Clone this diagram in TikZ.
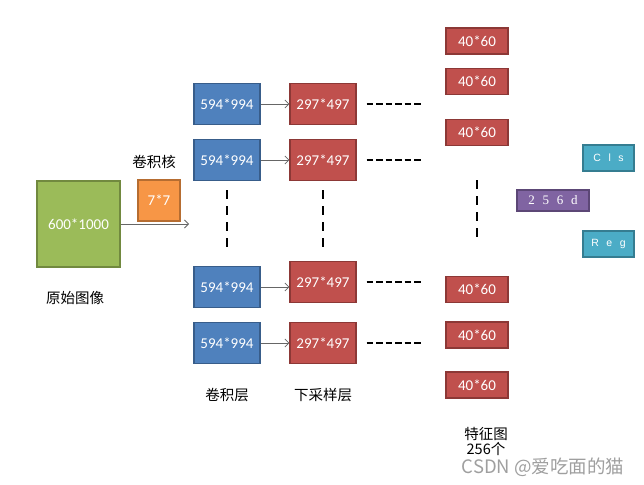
\documentclass[tikz,border=0pt]{standalone}
\usepackage{fontspec}
\setmainfont{Carlito}
\newfontfamily\cjk{Noto Sans CJK SC}
\newfontfamily\serifspaced[WordSpace=2.4]{Liberation Serif}
\newfontfamily\sansspaced[WordSpace=2.6]{Liberation Sans}
\usetikzlibrary{arrows.meta}
\definecolor{imgfill}{HTML}{9BBB59}
\definecolor{imgedge}{HTML}{71893F}
\definecolor{kernfill}{HTML}{F79646}
\definecolor{kernedge}{HTML}{B66D31}
\definecolor{convfill}{HTML}{4F81BD}
\definecolor{convedge}{HTML}{385D8A}
\definecolor{poolfill}{HTML}{C0504D}
\definecolor{pooledge}{HTML}{8C3836}
\definecolor{headfill}{HTML}{4BACC6}
\definecolor{headedge}{HTML}{357D91}
\definecolor{dimfill}{HTML}{8064A2}
\definecolor{dimedge}{HTML}{5C4776}

\begin{document}
\begin{tikzpicture}[
 x=1pt,y=-1pt,
 every node/.style={align=center,font=\fontsize{15}{16}\selectfont},
 mbox/.style={draw,line width=1.2pt,text=white,inner sep=0pt},
 convbox/.style={mbox,draw=convedge,fill=convfill,minimum width=66pt,minimum height=41pt},
 poolbox/.style={mbox,draw=pooledge,fill=poolfill,minimum width=66pt,minimum height=41pt},
 featbox/.style={mbox,draw=pooledge,fill=poolfill,minimum width=62pt,minimum height=26pt},
 headbox/.style={mbox,draw=headedge,fill=headfill,minimum width=51pt,minimum height=26pt,
 font=\sansspaced\fontsize{10.5}{12}\selectfont},
 lbl/.style={font=\cjk\fontsize{14.5}{15}\selectfont},
 mflow/.style={-{Straight Barb[length=4pt,width=8pt]},draw=gray!80!black,line width=.8pt},
 mdash/.style={draw=black,line width=2.6pt,dash pattern=on 6.5pt off 3pt},
 vdash/.style={draw=black,line width=2.6pt,dash pattern=on 9pt off 7pt}]
\useasboundingbox (0,0) rectangle (644,484);
% input image and kernel
\node[mbox,draw=imgedge,fill=imgfill,minimum width=83pt,minimum height=86pt] (img) at (78.5,224) {600*1000};
\node[mbox,draw=kernedge,fill=kernfill,minimum width=42pt,minimum height=41pt] (kern) at (159,200.5) {7*7};
\node[lbl] (kernlbl) at (154,162) {卷积核};
\node[lbl] (imglbl) at (75,298) {原始图像};
\coordinate (kend) at (189,224);
\draw[mflow] (img.east) -- (kend);
% conv and pooling layers
\node[convbox] (c1) at (227,104) {594*994};
\node[convbox] (c2) at (227,160) {594*994};
\node[convbox] (c3) at (227,287) {594*994};
\node[convbox] (c4) at (227,343) {594*994};
\node[poolbox] (p1) at (323,104) {297*497};
\node[poolbox] (p2) at (323,160) {297*497};
\node[poolbox] (p3) at (323,282) {297*497};
\node[poolbox] (p4) at (323,343) {297*497};
\node[lbl] (convlbl) at (227,395) {卷积层};
\node[lbl] (poollbl) at (323,395) {下采样层};
\draw[mflow] (c1.east) -- (p1.west);
\draw[mflow] (c2.east) -- (p2.west);
\draw[mflow] (c3.east) -- (c3.east -| p3.west);
\draw[mflow] (c4.east) -- (p4.west);
\draw[vdash] ([yshift=-9pt]c2.south) -- ([yshift=14pt]c3.north);
\draw[vdash] ([yshift=-9pt]p2.south) -- ([yshift=10pt]p3.north);
\draw[mdash] ([xshift=10pt]p1.east) -- ++(56,0);
\draw[mdash] ([xshift=10pt]p2.east) -- ++(56,0);
\draw[mdash] ([xshift=10pt]p3.east) -- ++(56,0);
\draw[mdash] ([xshift=10pt]p4.east) -- ++(56,0);
% feature maps
\node[featbox] (f1) at (477,41) {40*60};
\node[featbox] (f2) at (477,81.5) {40*60};
\node[featbox] (f3) at (477,132.5) {40*60};
\node[featbox] (f4) at (477,289.5) {40*60};
\node[featbox] (f5) at (477,335) {40*60};
\node[featbox] (f6) at (477,385) {40*60};
\draw[vdash] ([yshift=-34pt]f3.south) -- ([yshift=36pt]f4.north);
\node[lbl] (featlbl) at (486,441) {特征图\\256个};
% heads
\node[mbox,draw=dimedge,fill=dimfill,minimum width=72pt,minimum height=21pt,
 font=\serifspaced\fontsize{13}{14}\selectfont] (dim) at (553,200.5) {2 5 6 d};
\node[headbox] (cls) at (608.5,158) {C l s};
\node[headbox] (reg) at (608.5,244) {R e g};
\node[font=\cjk\fontsize{18.5}{19}\selectfont,text=gray!75] (mark) at (543,467.5) {CSDN @爱吃面的猫};
\end{tikzpicture}
\end{document}
